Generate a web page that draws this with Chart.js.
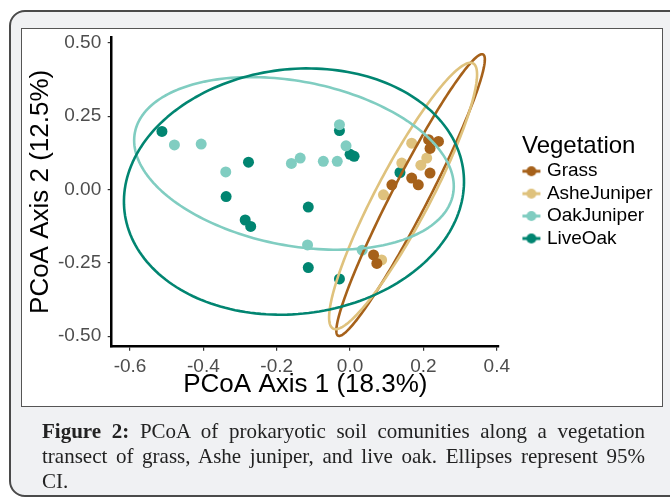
<!DOCTYPE html>
<html>
<head>
<meta charset="utf-8">
<script src="https://cdn.jsdelivr.net/npm/chart.js@4.4.1/dist/chart.umd.min.js"></script>
<style>
    html, body { margin: 0; padding: 0; background: #fff; }
    body { width: 670px; height: 500px; position: relative; overflow: hidden; }
    #outer {
        position: absolute; left: 9px; top: 10px; width: 700px; height: 483px;
        background: #f0f1f3; border: 2px solid #4a4a4a; border-radius: 16px;
    }
    #panel {
        position: absolute; left: 21px; top: 28px; width: 640px; height: 377px;
        background: #fff; border: 1.5px solid #555;
    }
    #chart { position: absolute; left: 0; top: 0; }
    #caption {
        position: absolute; left: 42px; top: 419px; width: 603px;
        font: 21px/25px 'Liberation Serif', 'Times New Roman', serif; color: #222;
        text-align: justify; text-align-last: justify;
    }
</style>
</head>
<body>
<div id="outer"></div>
<div id="panel"></div>
<canvas id="chart" width="670" height="500"></canvas>
<div id="caption"><b>Figure 2:</b> PCoA of prokaryotic soil comunities along a vegetation<br>transect of grass, Ashe juniper, and live oak. Ellipses represent 95%<br>CI.</div>

<script>
// groups (legend order) and colours
const groups = ['Grass', 'AsheJuniper', 'OakJuniper', 'LiveOak'];
const groupColors = ['#A6611A', '#DFC27D', '#80CDC1', '#018571'];

// PCoA scores
const grassX = [0.214, 0.241, 0.218, 0.218, 0.168, 0.186, 0.114, 0.064, 0.073];
const grassY = [0.170, 0.164, 0.140, 0.056, 0.039, 0.016, 0.016, -0.223, -0.252];
const asheX = [0.168, 0.209, 0.193, 0.141, 0.091, 0.086];
const asheY = [0.158, 0.107, 0.083, 0.090, -0.018, -0.240];
const oakJunX = [-0.479, -0.406, -0.339, -0.160, -0.136, -0.073, -0.035, -0.029, -0.011, -0.116, 0.033];
const oakJunY = [0.152, 0.155, 0.060, 0.089, 0.107, 0.096, 0.096, 0.221, 0.149, -0.189, -0.207];
const liveOakX = [-0.513, -0.277, -0.338, -0.286, -0.271, -0.114, -0.114, -0.029, -0.029, 0.000, 0.011, 0.136];
const liveOakY = [0.198, 0.093, -0.024, -0.104, -0.126, -0.060, -0.266, -0.305, 0.201, 0.120, 0.113, 0.058];

// 95% CI ellipses: centre and the two semi-axis vectors (data units), same order as groups
const ellCx = [0.165, 0.1445, -0.153, -0.153];
const ellCy = [-0.019, -0.022, 0.089, -0.007];
const ellUx = [0.1977, 0.1909, 0.4337, 0.4619];
const ellUy = [0.4795, 0.4522, -0.1055, 0.0700];
const ellVx = [0.0436, 0.0652, -0.0426, 0.0401];
const ellVy = [-0.0282, -0.0430, -0.2747, -0.4140];

// axis ticks
const xTicks = [-0.6, -0.4, -0.2, 0.0, 0.2, 0.4];
const yTicks = [-0.5, -0.25, 0.0, 0.25, 0.5];

const fontFamily = "'Liberation Sans', Arial, sans-serif";
Chart.defaults.font.family = fontFamily;

function toPoints(xs, ys) {
    return xs.map((x, i) => ({ x: x, y: ys[i] }));
}

function makeKey(color) {
    const c = document.createElement('canvas');
    c.width = 20;
    c.height = 12;
    const k = c.getContext('2d');
    k.strokeStyle = color;
    k.lineWidth = 3;
    k.beginPath();
    k.moveTo(1, 6);
    k.lineTo(19, 6);
    k.stroke();
    k.fillStyle = color;
    k.beginPath();
    k.arc(10, 6, 5, 0, 2 * Math.PI);
    k.fill();
    return c;
}
const legendKeys = groupColors.map(makeKey);

const seriesX = [grassX, asheX, oakJunX, liveOakX];
const seriesY = [grassY, asheY, oakJunY, liveOakY];

const datasets = groups.map((g, i) => ({
    label: g,
    data: toPoints(seriesX[i], seriesY[i]),
    backgroundColor: groupColors[i],
    borderWidth: 0,
    pointRadius: 5.5,
    pointHoverRadius: 5.5
}));

// draws the ellipses on top of the points, through the chart scales
const ellipsePlugin = {
    id: 'ellipses',
    afterDatasetsDraw(chart) {
        const ctx = chart.ctx;
        const xs = chart.scales.x;
        const ys = chart.scales.y;
        ctx.save();
        ctx.lineWidth = 2.6;
        ctx.lineJoin = 'round';
        for (let g = 0; g < groups.length; g++) {
            ctx.beginPath();
            for (let k = 0; k <= 200; k++) {
                const t = k / 200 * 2 * Math.PI;
                const vx = ellCx[g] + ellUx[g] * Math.cos(t) + ellVx[g] * Math.sin(t);
                const vy = ellCy[g] + ellUy[g] * Math.cos(t) + ellVy[g] * Math.sin(t);
                const px = xs.getPixelForValue(vx);
                const py = ys.getPixelForValue(vy);
                if (k === 0) ctx.moveTo(px, py); else ctx.lineTo(px, py);
            }
            ctx.closePath();
            ctx.strokeStyle = groupColors[g];
            ctx.stroke();
        }
        ctx.restore();
    }
};

const tickFont = { size: 19, family: fontFamily };
const titleFont = { size: 26, family: fontFamily };

new Chart(document.getElementById('chart').getContext('2d'), {
    type: 'scatter',
    data: { datasets: datasets },
    plugins: [ellipsePlugin],
    options: {
        responsive: false,
        devicePixelRatio: 1,
        animation: false,
        events: [],
        layout: { padding: { left: 20, top: 37, right: 7.5, bottom: 97.3 } },
        scales: {
            x: {
                type: 'linear',
                min: -0.65,
                max: 0.406,
                afterBuildTicks: s => { s.ticks = xTicks.map(v => ({ value: v })); },
                afterFit: s => { s.height = 56; },
                ticks: {
                    callback: v => v.toFixed(1),
                    color: '#4d4d4d',
                    font: tickFont,
                    padding: 4.6,
                    maxRotation: 0,
                    autoSkip: false
                },
                grid: { display: true, drawOnChartArea: false, drawTicks: true, tickLength: 4, color: '#333', lineWidth: 1.2 },
                border: { display: true, color: '#000', width: 2.5 },
                title: { display: true, text: 'PCoA Axis 1 (18.3%)', color: '#000', font: titleFont, padding: { top: 0, bottom: 2.1 } }
            },
            y: {
                type: 'linear',
                min: -0.536,
                max: 0.52,
                afterBuildTicks: s => { s.ticks = yTicks.map(v => ({ value: v })); },
                afterFit: s => { s.width = 91.7; },
                ticks: {
                    callback: v => v.toFixed(2),
                    color: '#4d4d4d',
                    font: tickFont,
                    padding: 6.5,
                    autoSkip: false
                },
                grid: { display: true, drawOnChartArea: false, drawTicks: true, tickLength: 4, color: '#333', lineWidth: 1.2 },
                border: { display: true, color: '#000', width: 2.5 },
                title: { display: true, text: 'PCoA Axis 2 (12.5%)', color: '#000', font: titleFont, padding: { top: 5, bottom: 0 } }
            },
            // empty axis, only keeps the gap between the panel and the legend
            spacer: {
                type: 'linear',
                position: 'right',
                display: true,
                grid: { display: false },
                border: { display: false },
                ticks: { display: false },
                afterFit: s => { s.width = 23; }
            }
        },
        plugins: {
            tooltip: { enabled: false },
            legend: {
                position: 'right',
                align: 'center',
                fullSize: false,
                maxWidth: 300,
                title: {
                    display: true,
                    text: 'Vegetation',
                    color: '#000',
                    position: 'start',
                    font: { size: 24, family: fontFamily, lineHeight: 1 },
                    padding: { top: 2, bottom: 0 }
                },
                labels: {
                    usePointStyle: true,
                    pointStyleWidth: 12,
                    padding: 3.4,
                    color: '#000',
                    font: { size: 19, family: fontFamily },
                    generateLabels: chart => {
                        const items = Chart.defaults.plugins.legend.labels.generateLabels(chart);
                        items.forEach((it, i) => { it.pointStyle = legendKeys[i]; });
                        return items;
                    }
                }
            }
        }
    }
});
</script>
</body>
</html>
